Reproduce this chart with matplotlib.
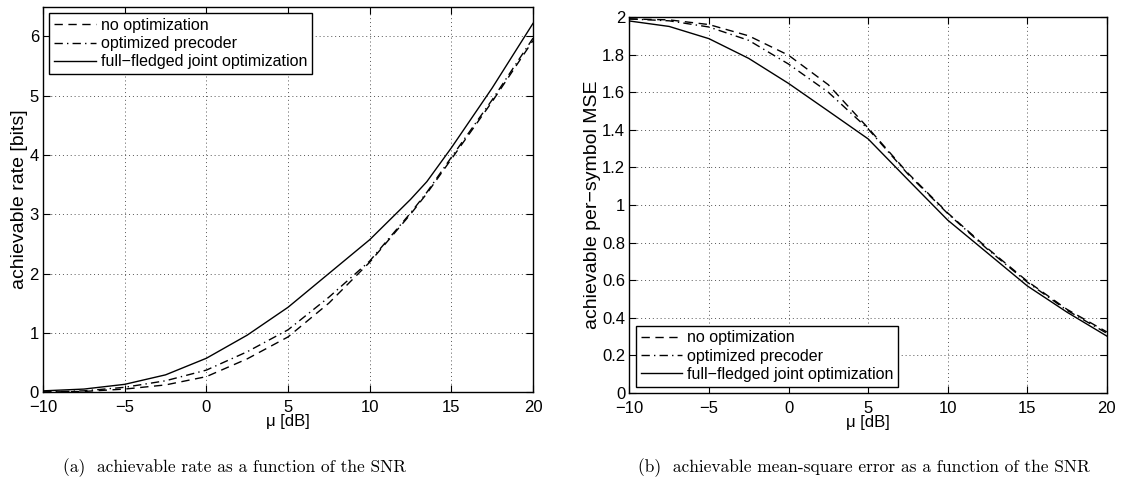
import matplotlib
matplotlib.use('Agg')
import matplotlib.pyplot as plt

plt.rcParams['font.family'] = ['Liberation Sans', 'DejaVu Sans']

# SNR axis (dB) for the curves
snr_rate = [-10, -7.5, -5, -2.5, 0, 2.5, 5, 7.5, 10, 12.5, 13.5, 15, 17.5, 20]
rate_none = [0.0, 0.01, 0.05, 0.12, 0.26, 0.56, 0.93, 1.50, 2.19, 3.0, 3.35, 3.93, 4.9, 5.93]
rate_prec = [0.0, 0.02, 0.08, 0.19, 0.37, 0.68, 1.05, 1.60, 2.21, 3.02, 3.37, 3.96, 4.93, 5.97]
rate_joint = [0.02, 0.05, 0.13, 0.29, 0.57, 0.96, 1.43, 2.0, 2.57, 3.25, 3.55, 4.12, 5.13, 6.22]

snr_mse = [-10, -7.5, -5, -2.5, 0, 2.5, 5, 7.5, 10, 12.5, 15, 17.5, 20]
mse_none = [1.99, 1.985, 1.96, 1.90, 1.797, 1.64, 1.41, 1.17, 0.958, 0.77, 0.595, 0.445, 0.325]
mse_prec = [1.99, 1.98, 1.947, 1.876, 1.75, 1.60, 1.405, 1.165, 0.955, 0.765, 0.59, 0.44, 0.318]
mse_joint = [1.979, 1.95, 1.885, 1.78, 1.647, 1.50, 1.352, 1.135, 0.92, 0.745, 0.57, 0.43, 0.303]

labels = ['no optimization', 'optimized precoder', 'full\u2212fledged joint optimization']
captions = ['(a)  achievable rate as a function of the SNR',
            '(b)  achievable mean-square error as a function of the SNR']

fig = plt.figure(figsize=(11.34, 4.87), dpi=100)
ax1 = fig.add_axes([0.038, 0.195, 0.432, 0.791])
ax2 = fig.add_axes([0.555, 0.193, 0.421, 0.772])


def style(ax):
    ax.grid(True, linestyle=(0, (1, 3)), color='#555555', linewidth=0.7)
    ax.tick_params(direction='in', top=True, right=True, labelsize=12, length=5, width=0.8)
    ax.tick_params(axis='x', pad=6)
    ax.tick_params(axis='y', pad=3)
    for s in ax.spines.values():
        s.set_linewidth(1.0)
    ax.set_xlim(-10, 20)
    ax.set_xticks([-10, -5, 0, 5, 10, 15, 20])
    ax.set_xlabel('\u03bc [dB]', fontsize=12, labelpad=-1)


ax1.plot(snr_rate, rate_none, color='k', lw=1.0, ls=(0, (6, 4)), label=labels[0])
ax1.plot(snr_rate, rate_prec, color='k', lw=1.0, ls=(0, (6, 3, 1, 3)), label=labels[1])
ax1.plot(snr_rate, rate_joint, color='k', lw=1.0, ls='-', label=labels[2])
style(ax1)
ax1.set_ylim(0, 6.5)
ax1.set_yticks(range(0, 7))
ax1.set_ylabel('achievable rate [bits]', fontsize=14, labelpad=1)

ax2.plot(snr_mse, mse_none, color='k', lw=1.0, ls=(0, (6, 4)), label=labels[0])
ax2.plot(snr_mse, mse_prec, color='k', lw=1.0, ls=(0, (6, 3, 1, 3)), label=labels[1])
ax2.plot(snr_mse, mse_joint, color='k', lw=1.0, ls='-', label=labels[2])
style(ax2)
ax2.set_ylim(0, 2)
ax2.set_yticks([0, 0.2, 0.4, 0.6, 0.8, 1, 1.2, 1.4, 1.6, 1.8, 2])
ax2.set_yticklabels(['0', '0.2', '0.4', '0.6', '0.8', '1', '1.2', '1.4', '1.6', '1.8', '2'])
ax2.set_ylabel('achievable per\u2212symbol MSE', fontsize=14, labelpad=1)

for ax, loc in [(ax1, 'upper left'), (ax2, 'lower left')]:
    leg = ax.legend(loc=loc, fontsize=11.5, fancybox=False, framealpha=1,
                    edgecolor='k', handlelength=2.6, handletextpad=0.3,
                    borderpad=0.3, labelspacing=0.2, borderaxespad=0.4)
    leg.get_frame().set_linewidth(1.0)

fig.text(0.207, 0.04, captions[0], ha='center', va='center', fontsize=12.5,
         family=['cmr10', 'DejaVu Serif'])
fig.text(0.762, 0.04, captions[1], ha='center', va='center', fontsize=12.5,
         family=['cmr10', 'DejaVu Serif'])

fig.savefig('out.png', dpi=100)
